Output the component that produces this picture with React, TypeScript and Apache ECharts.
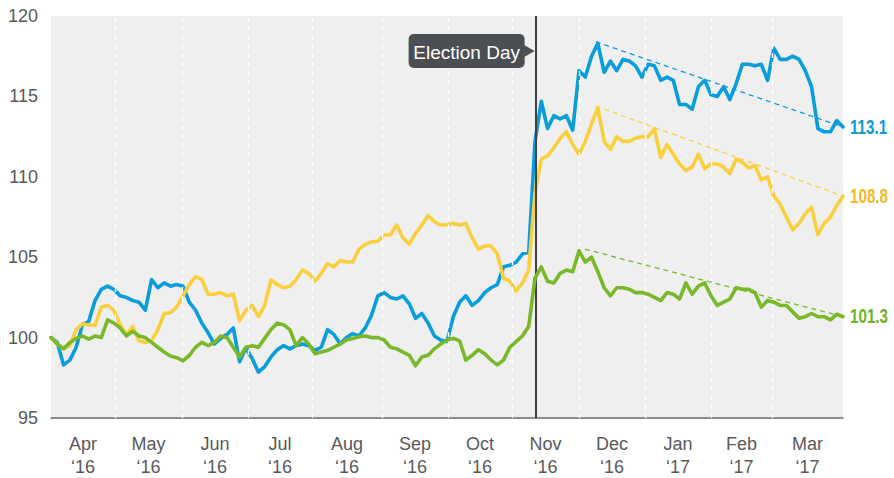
import React, { useEffect, useRef } from "react";
import * as echarts from "echarts";

const FONT = '"Liberation Sans", Arial, sans-serif';

const monthNames = ["Apr", "May", "Jun", "Jul", "Aug", "Sep", "Oct", "Nov", "Dec", "Jan", "Feb", "Mar"];
const yearNames = ["\u201816", "\u201816", "\u201816", "\u201816", "\u201816", "\u201816", "\u201816", "\u201816", "\u201816", "\u201817", "\u201817", "\u201817"];
// month boundaries / centres in sample-index units (x axis: sample 0..126)
const monthBounds = [10.18, 20.84, 31.34, 41.52, 52.66, 63.16, 73.34, 84.0, 94.5, 105.0, 114.7];
const monthMids = [5.09, 15.51, 26.09, 36.43, 47.09, 57.91, 68.25, 78.67, 89.25, 99.75, 109.85, 120.35];
const electionX = 77.1;
const yTicks = [95, 100, 105, 110, 115, 120];

const blueValues = [
  100.0, 99.7, 98.3, 98.6, 99.4, 100.8, 101.0, 102.3, 103.0, 103.2,
  103.0, 102.6, 102.5, 102.3, 102.2, 101.7, 103.6, 103.1, 103.4, 103.2,
  103.3, 103.2, 102.2, 101.7, 100.9, 100.3, 99.6, 99.95, 100.2, 100.6,
  98.5, 99.35, 98.7, 97.85, 98.2, 98.8, 99.25, 99.5, 99.3, 99.5,
  99.6, 99.5, 99.2, 99.4, 100.5, 100.2, 99.6, 100.0, 100.25, 100.1,
  100.6, 101.4, 102.6, 102.8, 102.5, 102.4, 102.6, 102.1, 101.2, 101.5,
  100.9, 100.1, 99.85, 99.75, 101.3, 102.2, 102.6, 102.0, 102.3, 102.8,
  103.1, 103.3, 104.4, 104.5, 104.7, 105.2, 105.3, 112.2, 114.7, 113.0,
  113.8, 113.6, 113.8, 112.9, 116.6, 116.2, 117.5, 118.3, 116.5, 117.2,
  116.6, 117.3, 117.2, 116.9, 116.2, 117.0, 116.9, 116.0, 116.2, 116.0,
  114.5, 114.5, 114.2, 115.6, 116.0, 115.1, 115.0, 115.6, 114.8, 115.8,
  117.0, 117.0, 116.9, 117.0, 116.0, 118.0, 117.3, 117.3, 117.5, 117.3,
  116.6, 115.6, 113.0, 112.8, 112.8, 113.5, 113.1,
];

const yellowValues = [
  100.0, 99.6, 99.3, 99.5, 100.5, 100.85, 100.8, 100.75, 101.9, 102.0,
  101.7, 100.8, 100.2, 100.7, 99.8, 99.7, 99.8, 100.5, 101.5, 101.55,
  101.9, 102.6, 103.3, 103.8, 103.6, 102.7, 102.7, 102.8, 102.6, 102.7,
  101.05, 101.7, 102.0, 101.3, 102.0, 103.6, 103.3, 103.1, 103.2, 103.6,
  104.2, 104.0, 103.5, 104.0, 104.6, 104.4, 104.8, 104.7, 104.7, 105.5,
  105.8, 105.95, 106.0, 106.4, 106.4, 107.0, 106.2, 105.8, 106.5, 107.0,
  107.6, 107.2, 107.0, 107.0, 107.1, 107.0, 107.1, 106.2, 105.5, 105.7,
  105.7, 105.2, 103.7, 103.5, 102.9, 103.4, 104.2, 109.0, 111.1, 111.3,
  111.8, 112.4, 112.8, 112.0, 111.4, 112.2, 113.3, 114.3, 112.2, 111.7,
  112.5, 112.2, 112.2, 112.4, 112.5, 112.5, 113.0, 111.2, 112.0, 111.4,
  110.8, 110.4, 110.6, 111.4, 110.5, 110.8, 110.8, 110.6, 110.2, 111.1,
  110.9, 110.55, 110.7, 109.8, 110.0, 108.8, 108.3, 107.5, 106.7, 107.1,
  107.7, 108.1, 106.4, 107.1, 107.5, 108.2, 108.8,
];

const greenValues = [
  100.0, 99.6, 99.3, 99.7, 99.95, 100.1, 99.9, 100.1, 100.0, 101.1,
  100.9, 100.6, 100.1, 100.4, 100.1, 100.0, 99.7, 99.4, 99.1, 98.85,
  98.75, 98.55, 98.9, 99.4, 99.7, 99.5, 99.7, 100.1, 100.0, 99.4,
  98.8, 99.4, 99.5, 99.4, 99.95, 100.5, 100.9, 100.8, 100.5, 99.5,
  100.0, 99.6, 99.0, 99.1, 99.2, 99.4, 99.6, 99.85, 99.95, 100.05,
  100.1, 100.0, 100.0, 99.85, 99.4, 99.3, 99.1, 98.9, 98.25, 98.8,
  98.9, 99.3, 99.6, 99.85, 99.95, 99.8, 98.6, 98.9, 99.25, 99.0,
  98.6, 98.3, 98.6, 99.4, 99.75, 100.1, 100.7, 103.7, 104.4, 103.5,
  103.4, 104.0, 104.2, 104.1, 105.4, 104.7, 105.0, 104.1, 103.1, 102.6,
  103.1, 103.1, 103.0, 102.8, 102.8, 102.7, 102.5, 102.3, 102.8, 102.7,
  102.4, 103.4, 102.7, 103.2, 103.4, 102.6, 102.0, 102.2, 102.4, 103.1,
  103.0, 103.0, 102.8, 101.9, 102.3, 102.2, 102.0, 102.0, 101.6, 101.2,
  101.3, 101.5, 101.3, 101.3, 101.1, 101.45, 101.3,
];

// dashed trend lines: [startX, startValue, endX, endValue]
const blueTrend = [86.66, 118.4, 126, 113.1];
const yellowTrend = [86.66, 114.4, 126, 108.8];
const greenTrend = [84.95, 105.5, 126, 101.3];

const BLUE = "#0a9ddc";
const YELLOW = "#f9cf3e";
const GREEN = "#78b829";
const BLUE_TEXT = "#0f9ad8";
const YELLOW_TEXT = "#f4b926";
const GREEN_TEXT = "#6fb22a";

export default function App() {
  const ref = useRef<HTMLDivElement>(null);

  useEffect(() => {
    document.body.style.margin = "0";
    const chart = echarts.init(ref.current!, null, { renderer: "svg" });
    const pairs = (arr: number[]) => arr.map((v, i) => [i, v]);
    const trend = (t: number[]) => [
      [t[0], t[1]],
      [t[2], t[3]],
    ];

    const mainSeries = (name: string, values: number[], color: string, z: number) => ({
      name,
      type: "line",
      data: pairs(values),
      showSymbol: false,
      symbol: "none",
      z,
      lineStyle: { color, width: 3.6, join: "round", cap: "round" },
      silent: true,
    });

    const trendSeries = (values: number[], color: string) => ({
      type: "line",
      data: trend(values),
      showSymbol: false,
      symbol: "none",
      z: 6,
      lineStyle: { color, width: 1.3, type: [5, 4] },
      silent: true,
    });

    const option: any = {
      animation: false,
      backgroundColor: "#ffffff",
      grid: {
        left: 51,
        right: 51,
        top: 16,
        bottom: 54,
        show: true,
        backgroundColor: "#efefef",
        borderWidth: 0,
      },
      xAxis: {
        type: "value",
        min: 0,
        max: 126,
        axisLine: { show: true, onZero: false, lineStyle: { color: "#6a6a6a", width: 1.5 } },
        axisTick: { show: false },
        splitLine: { show: false },
        axisLabel: {
          customValues: monthMids,
          margin: 14,
          color: "#58595b",
          fontFamily: FONT,
          fontSize: 18,
          lineHeight: 23,
          formatter: (v: number) => {
            let k = 0;
            let best = Infinity;
            monthMids.forEach((m, i) => {
              const d = Math.abs(m - v);
              if (d < best) {
                best = d;
                k = i;
              }
            });
            return monthNames[k] + "\n" + yearNames[k];
          },
        },
      },
      yAxis: {
        type: "value",
        min: yTicks[0],
        max: yTicks[yTicks.length - 1],
        interval: 5,
        axisLine: { show: false },
        axisTick: { show: false },
        splitLine: { show: false },
        axisLabel: {
          margin: 13,
          color: "#58595b",
          fontFamily: FONT,
          fontSize: 18,
        },
      },
      series: [
        {
          type: "line",
          data: [[0, 100]],
          showSymbol: false,
          symbol: "none",
          lineStyle: { opacity: 0 },
          z: 1,
          silent: true,
          markLine: {
            silent: true,
            symbol: ["none", "none"],
            label: { show: false },
            lineStyle: { color: "#ffffff", width: 1.4, type: [5, 4] },
            data: monthBounds.map((b) => ({ xAxis: b })),
          },
        },
        {
          type: "line",
          data: [[0, 100]],
          showSymbol: false,
          symbol: "none",
          lineStyle: { opacity: 0 },
          z: 2,
          silent: true,
          markLine: {
            silent: true,
            symbol: ["none", "none"],
            label: { show: false },
            lineStyle: { color: "#3f4042", width: 2, type: "solid" },
            data: [{ xAxis: electionX }],
          },
        },
        trendSeries(blueTrend, BLUE),
        trendSeries(yellowTrend, YELLOW),
        trendSeries(greenTrend, GREEN),
        mainSeries("blue", blueValues, BLUE, 3),
        mainSeries("yellow", yellowValues, YELLOW, 4),
        mainSeries("green", greenValues, GREEN, 5),
      ],
    };

    chart.setOption(option);

    const toPx = (x: number, y: number) => chart.convertToPixel({ gridIndex: 0 }, [x, y]) as number[];
    const ex = toPx(electionX, 120)[0];
    const boxRight = ex - 11;
    const boxW = 116;
    const boxTop = 34;
    const boxH = 34;

    const endLabel = (values: number[], color: string) => {
      const last = values.length - 1;
      const pt = toPx(last, values[last]);
      return {
        type: "text",
        x: pt[0] + 7,
        y: pt[1],
        scaleX: 0.76,
        style: {
          text: values[last].toFixed(1),
          fill: color,
          font: `bold 20px ${FONT}`,
          align: "left",
          verticalAlign: "middle",
        },
        z: 100,
      };
    };

    chart.setOption({
      graphic: [
        {
          type: "rect",
          shape: { x: boxRight - boxW, y: boxTop, width: boxW, height: boxH, r: 5 },
          style: { fill: "#4b4e52" },
          z: 100,
        },
        {
          type: "polygon",
          shape: {
            points: [
              [boxRight - 0.5, boxTop + boxH / 2 - 6],
              [ex - 1, boxTop + boxH / 2],
              [boxRight - 0.5, boxTop + boxH / 2 + 6],
            ],
          },
          style: { fill: "#4b4e52" },
          z: 100,
        },
        {
          type: "text",
          x: boxRight - boxW / 2,
          y: boxTop + boxH / 2 + 1,
          style: {
            text: "Election Day",
            fill: "#ffffff",
            font: `19px ${FONT}`,
            align: "center",
            verticalAlign: "middle",
          },
          z: 101,
        },
        endLabel(blueValues, BLUE_TEXT),
        endLabel(yellowValues, YELLOW_TEXT),
        endLabel(greenValues, GREEN_TEXT),
      ],
    });

    return () => chart.dispose();
  }, []);

  return <div ref={ref} style={{ width: 894, height: 478 }} />;
}
